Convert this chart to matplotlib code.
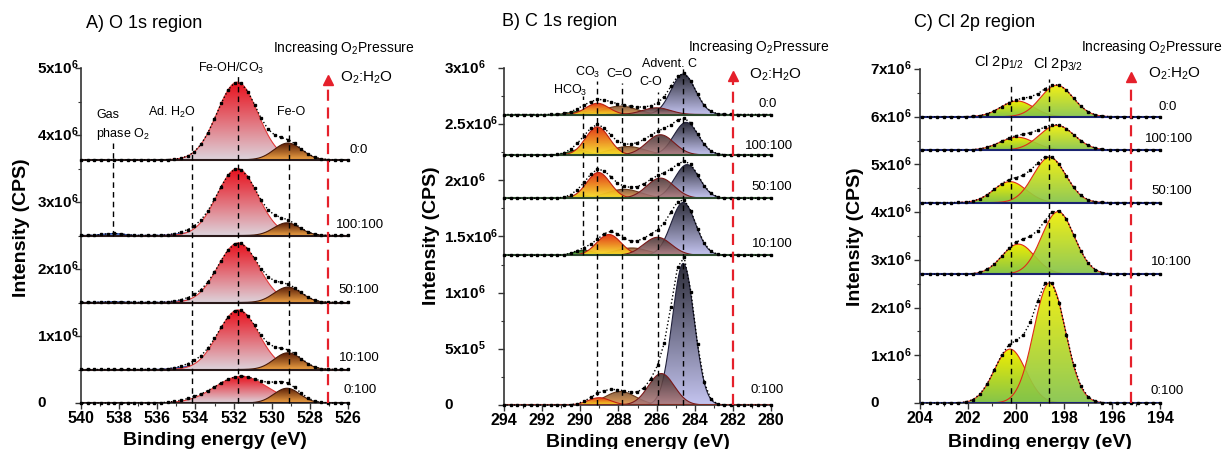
import numpy as np
import matplotlib
matplotlib.use('Agg')
import matplotlib.pyplot as plt
from matplotlib.colors import LinearSegmentedColormap
from matplotlib.patches import PathPatch
from matplotlib.path import Path
import matplotlib.transforms as mtransforms

plt.rcParams['font.family'] = ['Liberation Sans', 'DejaVu Sans']
plt.rcParams['mathtext.fontset'] = 'custom'
plt.rcParams['mathtext.rm'] = 'Liberation Sans'
plt.rcParams['mathtext.it'] = 'Liberation Sans:italic'
plt.rcParams['mathtext.bf'] = 'Liberation Sans:bold'

# ---------------- data ----------------
conditions = ['0:100', '10:100', '50:100', '100:100', '0:0']

# Panel A : O 1s  (peak centre eV, height CPS, FWHM eV) per condition
A_offsets = [0.0, 0.5e6, 1.5e6, 2.5e6, 3.63e6]
A_gas_center = [538.3, 538.3, 538.3, 538.3, 538.3]
A_gas_height = [0.0, 0.0, 0.012e6, 0.03e6, 0.0]
A_gas_fwhm = [1.3, 1.3, 1.3, 1.3, 1.3]
A_h2o_center = [534.2, 534.1, 534.2, 534.2, 534.2]
A_h2o_height = [0.02e6, 0.05e6, 0.035e6, 0.04e6, 0.0]
A_h2o_fwhm = [1.8, 1.8, 1.8, 1.8, 1.8]
A_main_center = [531.6, 531.75, 531.75, 531.8, 531.8]
A_main_height = [0.40e6, 0.89e6, 0.89e6, 1.0e6, 1.16e6]
A_main_fwhm = [3.2, 2.5, 2.5, 2.5, 2.5]
A_feo_center = [529.2, 529.15, 529.15, 529.2, 529.15]
A_feo_height = [0.22e6, 0.25e6, 0.23e6, 0.19e6, 0.25e6]
A_feo_fwhm = [1.6, 1.7, 1.7, 1.6, 1.7]

# Panel B : C 1s
B_offsets = [0.0, 1.333e6, 1.84e6, 2.226e6, 2.586e6]
B_hco3_center = [289.9, 289.8, 290.0, 290.1, 290.0]
B_hco3_height = [0.0, 0.045e6, 0.03e6, 0.045e6, 0.03e6]
B_hco3_fwhm = [1.2, 1.2, 1.2, 1.2, 1.2]
B_co3_center = [289.0, 288.5, 289.05, 289.1, 289.1]
B_co3_height = [0.065e6, 0.185e6, 0.23e6, 0.25e6, 0.10e6]
B_co3_fwhm = [1.4, 1.5, 1.45, 1.45, 1.4]
B_cdo_center = [287.9, 287.3, 287.7, 287.5, 287.9]
B_cdo_height = [0.12e6, 0.065e6, 0.08e6, 0.075e6, 0.075e6]
B_cdo_fwhm = [1.9, 2.0, 2.1, 2.1, 2.0]
B_co_center = [285.75, 285.95, 285.8, 285.8, 286.0]
B_co_height = [0.28e6, 0.16e6, 0.18e6, 0.18e6, 0.06e6]
B_co_fwhm = [1.6, 1.7, 1.7, 1.7, 1.7]
B_adv_center = [284.6, 284.6, 284.4, 284.45, 284.6]
B_adv_height = [1.26e6, 0.47e6, 0.30e6, 0.29e6, 0.36e6]
B_adv_fwhm = [1.35, 1.5, 1.5, 1.5, 1.5]

# Panel C : Cl 2p
C_offsets = [0.0, 2.7e6, 4.2e6, 5.3e6, 6.0e6]
C_p32_center = [198.6, 198.25, 198.6, 198.3, 198.3]
C_p32_height = [2.52e6, 1.31e6, 0.95e6, 0.52e6, 0.66e6]
C_p32_fwhm = [1.55, 1.6, 1.6, 1.7, 1.6]
C_p12_center = [200.25, 199.9, 200.25, 199.95, 199.95]
C_p12_height = [1.13e6, 0.63e6, 0.44e6, 0.27e6, 0.33e6]
C_p12_fwhm = [1.55, 1.6, 1.6, 1.7, 1.6]

A_yticks = [0, 1e6, 2e6, 3e6, 4e6, 5e6]
A_yticklabels = ['0', '1x10$^{6}$', '2x10$^{6}$', '3x10$^{6}$', '4x10$^{6}$', '5x10$^{6}$']
B_yticks = [0, 0.5e6, 1e6, 1.5e6, 2e6, 2.5e6, 3e6]
B_yticklabels = ['0', '5x10$^{5}$', '1x10$^{6}$', '1.5x10$^{6}$', '2x10$^{6}$', '2.5x10$^{6}$', '3x10$^{6}$']
C_yticks = [0, 1e6, 2e6, 3e6, 4e6, 5e6, 6e6, 7e6]
C_yticklabels = ['0', '1x10$^{6}$', '2x10$^{6}$', '3x10$^{6}$', '4x10$^{6}$', '5x10$^{6}$', '6x10$^{6}$', '7x10$^{6}$']
A_xticks = [540, 538, 536, 534, 532, 530, 528, 526]
B_xticks = [294, 292, 290, 288, 286, 284, 282, 280]
C_xticks = [204, 202, 200, 198, 196, 194]

# ---------------- helpers ----------------
def gauss(x, c, h, fwhm):
    s = fwhm / 2.3548
    return h * np.exp(-0.5 * ((x - c) / s) ** 2)


def draw_peak(ax, c, h, fwhm, base, ctop, cbot, edge, z, xlo, xhi, alpha=1.0):
    if h <= 0:
        return
    s = fwhm / 2.3548
    x = np.linspace(max(c - 3.6 * s, xlo), min(c + 3.6 * s, xhi), 200)
    y = gauss(x, c, h, fwhm)
    verts = np.vstack([np.column_stack([x, base + y]), [[x[-1], base], [x[0], base], [x[0], base + y[0]]]])
    codes = [Path.MOVETO] + [Path.LINETO] * (len(verts) - 2) + [Path.CLOSEPOLY]
    patch = PathPatch(Path(verts, codes), transform=ax.transData, fc='none', ec='none')
    ax.add_patch(patch)
    cmap = LinearSegmentedColormap.from_list('g', [cbot, ctop])
    im = ax.imshow(np.linspace(0, 1, 256).reshape(-1, 1), cmap=cmap, aspect='auto', origin='lower',
                   extent=(x[0], x[-1], base, base + h), zorder=z, alpha=alpha, interpolation='bilinear')
    im.set_clip_path(patch)
    ax.plot(x, base + y, color=edge, lw=0.8, zorder=z + 0.05)


def style_axis(ax, xlim, ylim, xticks, yticks, yticklabels, yminor, label_off):
    ax.set_xlim(*xlim)
    ax.set_ylim(*ylim)
    for sp in ['top', 'right']:
        ax.spines[sp].set_visible(False)
    for sp in ['left', 'bottom']:
        ax.spines[sp].set_linewidth(1.2)
        ax.spines[sp].set_color('#333333')
    ax.set_xticks(xticks, labels=[str(t) for t in xticks], fontweight='bold', fontsize=11.5)
    ax.set_xticks(np.arange(min(xticks), max(xticks) + 0.5, 1), minor=True)
    ax.set_yticks(yticks, labels=[])
    ax.set_yticks(np.arange(0, ylim[1] + 1, yminor), minor=True)
    ax.tick_params(axis='both', which='major', direction='out', length=4, width=1, color='#333333', pad=2)
    ax.tick_params(axis='both', which='minor', direction='out', length=2.5, width=0.8, color='#333333')
    tr = mtransforms.blended_transform_factory(ax.transAxes, ax.transData)
    for v, lab in zip(yticks, yticklabels):
        ax.text(-label_off, v, r'$\mathbf{' + lab.replace('$', '') + '}$' if '$' in lab else lab,
                transform=tr, ha='left', va='center', fontsize=11, fontweight='bold')


def envelope(ax, xlo, xhi, step, base, comps, z=20):
    xs = np.arange(xlo, xhi + 1e-9, step)
    tot = np.full_like(xs, base)
    for (c, h, w) in comps:
        if h > 0:
            tot += gauss(xs, c, h, w)
    ax.plot(xs, tot, ls=':', color='black', lw=1.0, marker='s', ms=2.0, zorder=z, clip_on=False)


def red_arrow(ax, x, top):
    ax.plot([x, x], [0, top * 0.965], ls=(0, (5, 3)), color='#e5202b', lw=1.6, zorder=25)
    ax.plot([x], [top * 0.975], marker='^', ms=7, color='#e5202b', zorder=25, clip_on=False)


def vdash(ax, xs, y0s, y1s):
    for x, a, b in zip(xs, y0s, y1s):
        ax.plot([x, x], [a, b], ls=(0, (4, 3)), color='black', lw=1.0, zorder=22, clip_on=False)


fig = plt.figure(figsize=(12.22, 4.49), dpi=100)
W, H = 1222, 449


def axes_px(l, r, t, b):
    return fig.add_axes([l / W, 1 - b / H, (r - l) / W, (b - t) / H])

# ---------------- Panel A ----------------
axA = axes_px(81, 348, 68, 403)
xloA, xhiA = 526, 540
for i in range(5):
    b = A_offsets[i]
    draw_peak(axA, A_gas_center[i], A_gas_height[i], A_gas_fwhm[i], b, '#1f4fbf', '#a8c4f0', '#2a4aa8', 3, xloA, xhiA)
    draw_peak(axA, A_h2o_center[i], A_h2o_height[i], A_h2o_fwhm[i], b, '#1f4fbf', '#a8c4f0', '#2a4aa8', 3, xloA, xhiA)
    draw_peak(axA, A_main_center[i], A_main_height[i], A_main_fwhm[i], b, '#e8101c', '#ddd4dc', '#e23a3a', 4, xloA, xhiA)
    draw_peak(axA, A_feo_center[i], A_feo_height[i], A_feo_fwhm[i], b, '#5a1e08', '#f2a444', '#4a1a08', 5, xloA, xhiA)
    axA.plot([xloA, xhiA], [b, b], color='#2a1a1a', lw=1.5, zorder=15)
    envelope(axA, xloA, xhiA, 0.35, b, [(A_gas_center[i], A_gas_height[i], A_gas_fwhm[i]),
                                        (A_h2o_center[i], A_h2o_height[i], A_h2o_fwhm[i]),
                                        (A_main_center[i], A_main_height[i], A_main_fwhm[i]),
                                        (A_feo_center[i], A_feo_height[i], A_feo_fwhm[i])])
vdash(axA, [538.3, 534.2, 531.75, 529.1], [2.5e6, 0, 0, 0], [3.88e6, 4.13e6, 4.91e6, 4.18e6])
red_arrow(axA, 527.05, 4.95e6)
style_axis(axA, (540, 526), (0, 5e6), A_xticks, A_yticks, A_yticklabels, 0.5e6, 44 / 267)
axA.text(539.74, 5.67e6, 'A) O 1s region', fontsize=13, va='center', ha='left')
axA.text(529.93, 5.30e6, 'Increasing O$_2$Pressure', fontsize=10, va='center', ha='left')
axA.text(526.42, 4.85e6, 'O$_2$:H$_2$O', fontsize=11, va='center', ha='left')
for lab, x, y in zip(conditions, [526.26, 526.47, 526.5, 526.63, 525.9], [0.19e6, 0.67e6, 1.69e6, 2.66e6, 3.78e6]):
    axA.text(x, y, lab, fontsize=9.5, va='center', ha='left')
axA.text(539.21, 4.30e6, 'Gas', fontsize=9, va='center', ha='left')
axA.text(539.21, 4.01e6, 'phase O$_2$', fontsize=9, va='center', ha='left')
axA.text(536.49, 4.34e6, 'Ad. H$_2$O', fontsize=9, va='center', ha='left')
axA.text(533.87, 4.99e6, 'Fe-OH/CO$_3$', fontsize=9, va='center', ha='left')
axA.text(529.72, 4.34e6, 'Fe-O', fontsize=9, va='center', ha='left')

# ---------------- Panel B ----------------
axB = axes_px(504, 771, 68, 405)
xloB, xhiB = 280, 294
for i in range(5):
    b = B_offsets[i]
    draw_peak(axB, B_hco3_center[i], B_hco3_height[i], B_hco3_fwhm[i], b, '#1e5a1e', '#6cc048', '#1e4a1e', 3, xloB, xhiB)
    draw_peak(axB, B_cdo_center[i], B_cdo_height[i], B_cdo_fwhm[i], b, '#7a5030', '#e89a48', '#6a3a1a', 3.5, xloB, xhiB, alpha=0.9)
    draw_peak(axB, B_co3_center[i], B_co3_height[i], B_co3_fwhm[i], b, '#e0280c', '#f8e428', '#c02010', 4, xloB, xhiB, alpha=0.95)
    draw_peak(axB, B_adv_center[i], B_adv_height[i], B_adv_fwhm[i], b, '#2c2c38', '#c4c4f0', '#20203a', 4.5, xloB, xhiB)
    draw_peak(axB, B_co_center[i], B_co_height[i], B_co_fwhm[i], b, '#3e2c2c', '#b07a7a', '#7a1a1a', 5, xloB, xhiB, alpha=0.88)
    axB.plot([xloB, xhiB], [b, b], color='#7a2a20' if i == 0 else '#2e4a2e', lw=1.5, zorder=15)
    envelope(axB, xloB, xhiB, 0.35, b, [(B_hco3_center[i], B_hco3_height[i], B_hco3_fwhm[i]),
                                        (B_co3_center[i], B_co3_height[i], B_co3_fwhm[i]),
                                        (B_cdo_center[i], B_cdo_height[i], B_cdo_fwhm[i]),
                                        (B_co_center[i], B_co_height[i], B_co_fwhm[i]),
                                        (B_adv_center[i], B_adv_height[i], B_adv_fwhm[i])])
vdash(axB, [289.86, 289.14, 287.83, 285.93, 284.6], [1.333e6, 0, 0, 0, 0], [2.75e6, 2.88e6, 2.87e6, 2.79e6, 3.0e6])
red_arrow(axB, 282.0, 3.0e6)
style_axis(axB, (294, 280), (0, 3e6), B_xticks, B_yticks, B_yticklabels, 0.25e6, 60 / 267)
axB.text(294.1, 3.41e6, 'B) C 1s region', fontsize=13, va='center', ha='left')
axB.text(284.35, 3.19e6, 'Increasing O$_2$Pressure', fontsize=10, va='center', ha='left')
axB.text(281.15, 2.94e6, 'O$_2$:H$_2$O', fontsize=11, va='center', ha='left')
for lab, x, y in zip(conditions, [281.05, 281.0, 281.05, 281.36, 280.68], [0.13e6, 1.43e6, 1.94e6, 2.31e6, 2.68e6]):
    axB.text(x, y, lab, fontsize=9.5, va='center', ha='left')
axB.text(291.43, 2.80e6, 'HCO$_3$', fontsize=9, va='center', ha='left')
axB.text(290.28, 2.96e6, 'CO$_3$', fontsize=9, va='center', ha='left')
axB.text(288.65, 2.95e6, 'C=O', fontsize=9, va='center', ha='left')
axB.text(286.92, 2.875e6, 'C-O', fontsize=9, va='center', ha='left')
axB.text(286.76, 3.04e6, 'Advent. C', fontsize=9, va='center', ha='left')

# ---------------- Panel C ----------------
axC = axes_px(920, 1160, 69, 403)
xloC, xhiC = 194, 204
for i in range(5):
    b = C_offsets[i]
    draw_peak(axC, C_p12_center[i], C_p12_height[i], C_p12_fwhm[i], b, '#f2ee00', '#84c44a', '#e02a1a', 4, xloC, xhiC)
    draw_peak(axC, C_p32_center[i], C_p32_height[i], C_p32_fwhm[i], b, '#f2ee00', '#84c44a', '#e02a1a', 5, xloC, xhiC, alpha=0.92)
    axC.plot([xloC, xhiC], [b, b], color='#1a2470', lw=1.5, zorder=15)
    envelope(axC, xloC, xhiC, 0.3, b, [(C_p12_center[i], C_p12_height[i], C_p12_fwhm[i]),
                                       (C_p32_center[i], C_p32_height[i], C_p32_fwhm[i])])
vdash(axC, [200.19, 198.63], [0, 0], [6.7e6, 6.8e6])
red_arrow(axC, 195.22, 7.0e6)
style_axis(axC, (204, 194), (0, 7e6), C_xticks, C_yticks, C_yticklabels, 0.5e6, 50 / 240)
axC.text(204.25, 7.97e6, 'C) Cl 2p region', fontsize=13, va='center', ha='left')
axC.text(197.29, 7.46e6, 'Increasing O$_2$Pressure', fontsize=10, va='center', ha='left')
axC.text(194.5, 6.9e6, 'O$_2$:H$_2$O', fontsize=11, va='center', ha='left')
for lab, x, y in zip(conditions, [194.4, 194.375, 194.375, 194.62, 194.08], [0.25e6, 2.96e6, 4.44e6, 5.53e6, 6.2e6]):
    axC.text(x, y, lab, fontsize=9.5, va='center', ha='left')
axC.text(201.75, 7.15e6, 'Cl 2p$_{1/2}$', fontsize=10.5, va='center', ha='left')
axC.text(199.3, 7.1e6, 'Cl 2p$_{3/2}$', fontsize=10.5, va='center', ha='left')

# ---------------- axis titles ----------------
for cx, cy in [(22, 228), (432, 236), (855, 237)]:
    fig.text(cx / W, 1 - cy / H, 'Intensity (CPS)', rotation=90, fontsize=14, fontweight='bold',
             ha='center', va='center')
for cx, by in [(214.5, 445), (637.5, 447), (1040, 447)]:
    fig.text(cx / W, 1 - by / H, 'Binding energy (eV)', fontsize=14, fontweight='bold',
             ha='center', va='baseline')

fig.savefig('out.png', dpi=100)
